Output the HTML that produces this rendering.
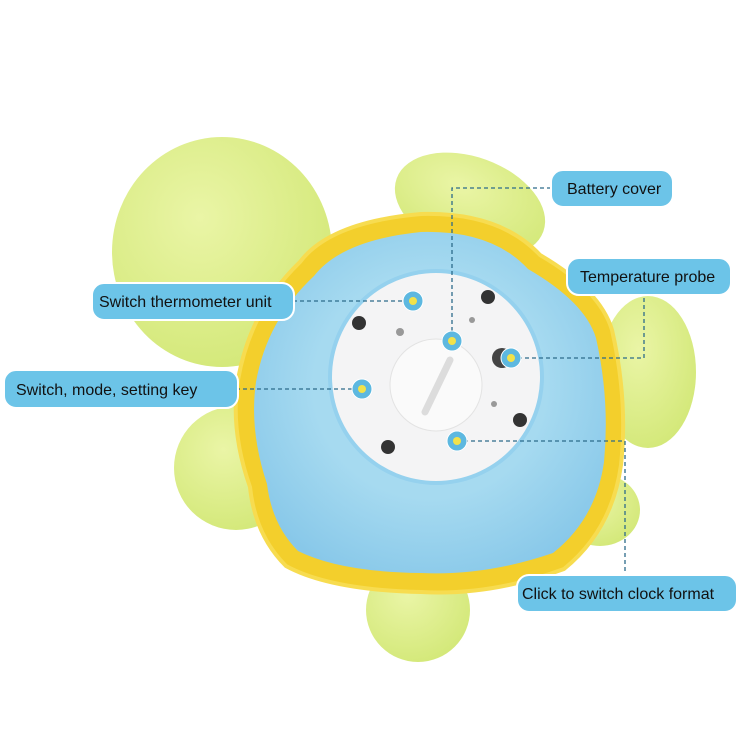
<!DOCTYPE html>
<html><head><meta charset="utf-8"><style>
html,body{margin:0;padding:0;background:#fff;}
svg{display:block}
text{font-family:"Liberation Sans",Arial,sans-serif;font-size:16px;fill:#111;}
</style></head><body>
<svg width="750" height="750" viewBox="0 0 750 750">
<defs>
<radialGradient id="g" cx="40%" cy="35%" r="70%"><stop offset="0" stop-color="#eaf5a6"/><stop offset="1" stop-color="#d3e878"/></radialGradient>
<radialGradient id="b" cx="50%" cy="45%" r="60%"><stop offset="0.55" stop-color="#a6daf0"/><stop offset="1" stop-color="#88c8e9"/></radialGradient>
</defs>
<ellipse cx="222" cy="252" rx="110" ry="115" fill="url(#g)"/>
<ellipse cx="470" cy="205" rx="78" ry="48" transform="rotate(20 470 205)" fill="url(#g)"/>
<ellipse cx="648" cy="372" rx="48" ry="76" fill="url(#g)"/>
<ellipse cx="600" cy="510" rx="40" ry="36" fill="url(#g)"/>
<ellipse cx="418" cy="610" rx="52" ry="52" fill="url(#g)"/>
<ellipse cx="236" cy="468" rx="62" ry="62" fill="url(#g)"/>
<path d="M300 262 Q330 222 421 214 Q500 212 540 255 Q600 290 612 330 Q628 400 621 465 Q612 530 564 569 Q490 596 421 592 Q330 590 286 566 Q255 535 250 487 Q230 430 238 380 Q250 310 300 262Z" fill="#f3cf2c" stroke="#f7dc50" stroke-width="4"/>
<path d="M314 276 Q342 240 421 232 Q492 230 528 269 Q585 302 596 338 Q610 400 604 462 Q596 519 553 553 Q486 576 421 573 Q340 572 298 551 Q272 525 267 484 Q249 430 256 382 Q267 320 314 276Z" fill="url(#b)"/>
<circle cx="436" cy="377" r="108" fill="#95d1ee"/>
<circle cx="436" cy="377" r="104" fill="#f4f4f5"/>
<circle cx="436" cy="385" r="46" fill="#fafafa" stroke="#e3e3e3"/>
<path d="M425 412 L450 360" stroke="#dcdcdc" stroke-width="7" stroke-linecap="round"/>
<g fill="#333"><circle cx="359" cy="323" r="7"/><circle cx="488" cy="297" r="7"/><circle cx="520" cy="420" r="7"/><circle cx="388" cy="447" r="7"/></g>
<g fill="#999"><circle cx="400" cy="332" r="4"/><circle cx="472" cy="320" r="3"/><circle cx="494" cy="404" r="3"/></g>
<circle cx="502" cy="358" r="10" fill="#444"/>
<g stroke="#2c6b8a" stroke-width="1.3" stroke-dasharray="4,3" fill="none">
<path d="M551 188 H452 V341"/>
<path d="M511 358 H644 V295"/>
<path d="M457 441 H625 V575"/>
<path d="M293 301 H413"/>
<path d="M236 389 H362"/>
</g>
<g><g fill="#5db8e0" stroke="#fff" stroke-width="1"><circle cx="413" cy="301" r="10"/><circle cx="452" cy="341" r="10"/><circle cx="511" cy="358" r="10"/><circle cx="362" cy="389" r="10"/><circle cx="457" cy="441" r="10"/></g>
<g fill="#f2e24a"><circle cx="413" cy="301" r="4"/><circle cx="452" cy="341" r="4"/><circle cx="511" cy="358" r="4"/><circle cx="362" cy="389" r="4"/><circle cx="457" cy="441" r="4"/></g></g>
<g fill="#6cc4e8" stroke="#fff" stroke-width="2">
<rect x="551" y="170" width="122" height="37" rx="12"/>
<rect x="567" y="258" width="164" height="37" rx="12"/>
<rect x="92" y="283" width="202" height="37" rx="12"/>
<rect x="4" y="370" width="234" height="38" rx="12"/>
<rect x="517" y="575" width="220" height="37" rx="12"/>
</g>
<text x="567" y="194">Battery cover</text>
<text x="580" y="282">Temperature probe</text>
<text x="99" y="307">Switch thermometer unit</text>
<text x="16" y="395">Switch, mode, setting key</text>
<text x="522" y="599">Click to switch clock format</text>
</svg>
</body></html>
